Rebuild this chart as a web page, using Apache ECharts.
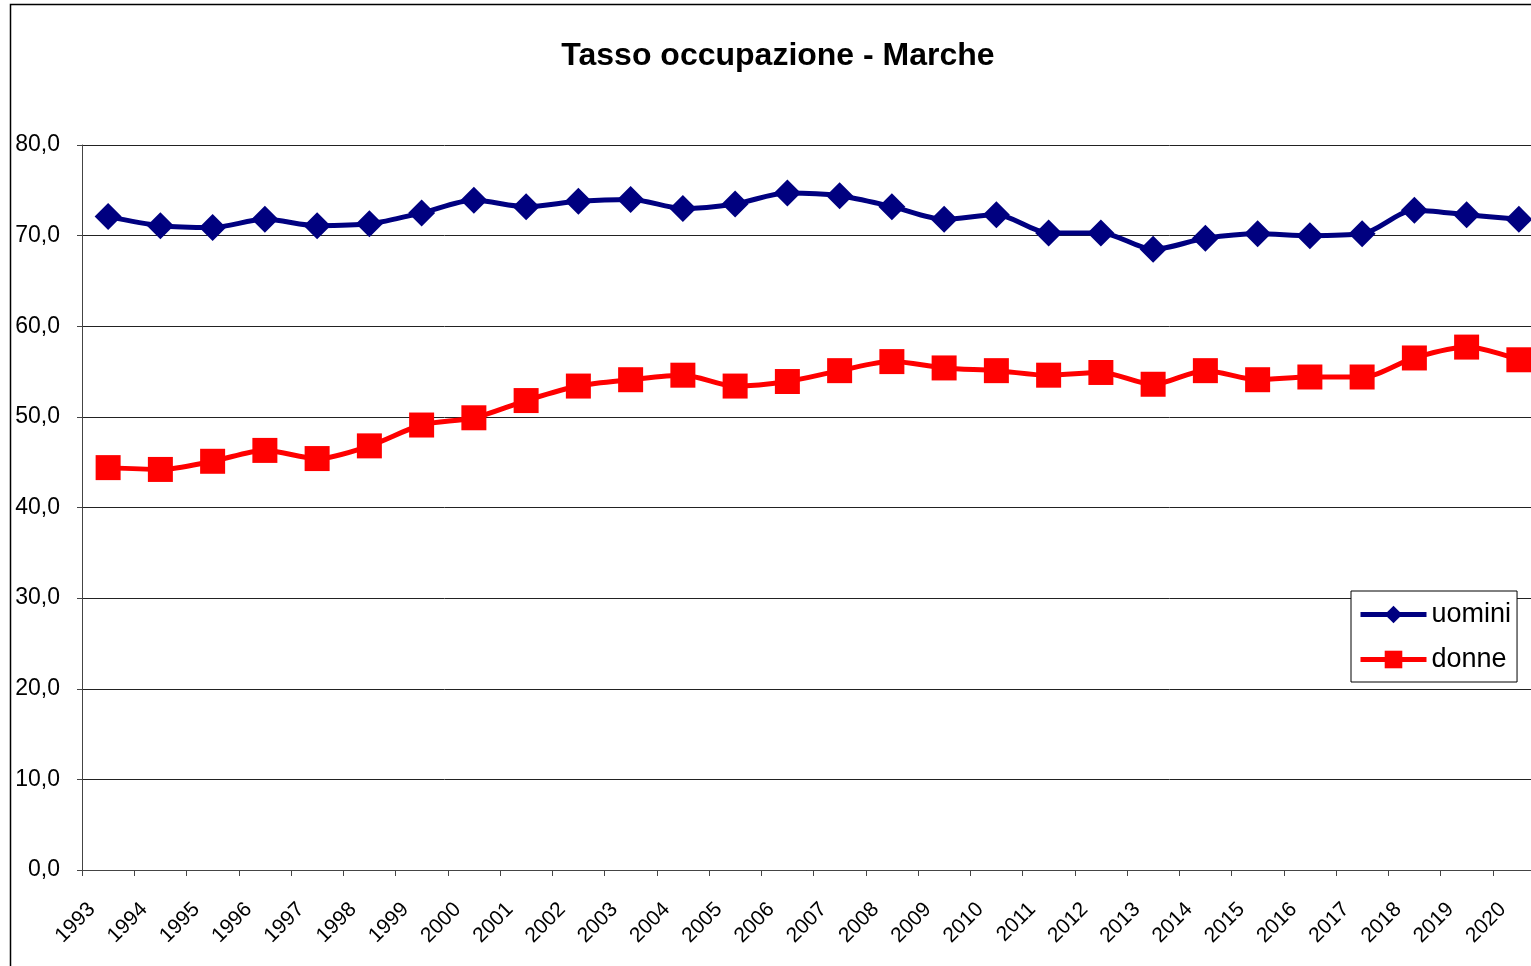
<!DOCTYPE html>
<html>
<head>
<meta charset="utf-8">
<title>Tasso occupazione - Marche</title>
<script src="https://cdn.jsdelivr.net/npm/echarts@6/dist/echarts.min.js"></script>
<style>
html, body { margin: 0; padding: 0; background: #fff; }
#chart { width: 1531px; height: 966px; }
</style>
</head>
<body>
<div id="chart"></div>
<script>
// anni
const years = ['1993', '1994', '1995', '1996', '1997', '1998', '1999', '2000', '2001', '2002',
    '2003', '2004', '2005', '2006', '2007', '2008', '2009', '2010', '2011', '2012',
    '2013', '2014', '2015', '2016', '2017', '2018', '2019', '2020']
// tasso occupazione uomini
const uomini = [72.1, 71.1, 70.9, 71.8, 71.1, 71.3, 72.5, 73.9, 73.2, 73.8,
    74.0, 73.0, 73.5, 74.7, 74.4, 73.2, 71.8, 72.3, 70.3, 70.3,
    68.5, 69.7, 70.2, 70.0, 70.2, 72.8, 72.3, 71.8]
// tasso occupazione donne
const donne = [44.4, 44.2, 45.1, 46.3, 45.4, 46.8, 49.1, 49.9, 51.8, 53.4,
    54.1, 54.6, 53.4, 53.9, 55.1, 56.1, 55.4, 55.1, 54.6, 54.9,
    53.6, 55.1, 54.1, 54.4, 54.4, 56.5, 57.7, 56.3]

const font = 'Liberation Sans, Arial, sans-serif'

let chart = echarts.init(document.getElementById('chart'))
chart.setOption({
    animation: false,
    backgroundColor: '#fff',
    textStyle: { fontFamily: font },
    title: {
        text: 'Tasso occupazione - Marche',
        left: 773,
        top: 35,
        textAlign: 'center',
        textStyle: {
            fontFamily: font,
            fontSize: 32,
            fontWeight: 'bold',
            color: '#000'
        }
    },
    graphic: [
        {
            type: 'rect',
            shape: { x: 10.5, y: 4.5, width: 1540, height: 1000 },
            style: { fill: null, stroke: '#000', lineWidth: 1.5 },
            silent: true
        }
    ],
    legend: {
        data: ['uomini', 'donne'],
        orient: 'vertical',
        left: 1351,
        top: 591,
        itemWidth: 66,
        itemHeight: 22,
        itemGap: 18,
        padding: [10, 6, 9, 7],
        borderColor: '#000',
        borderWidth: 1,
        backgroundColor: '#fff',
        lineStyle: { width: 5 },
        textStyle: {
            fontFamily: font,
            fontSize: 27,
            color: '#000'
        }
    },
    grid: {
        left: 82,
        top: 145,
        width: 1463,
        height: 725,
        outerBoundsMode: 'none',
        containLabel: false
    },
    xAxis: {
        type: 'category',
        data: years,
        boundaryGap: true,
        axisLine: { lineStyle: { color: '#444', width: 1 } },
        axisTick: { show: true, length: 6, lineStyle: { color: '#444' } },
        axisLabel: {
            interval: 0,
            rotate: 45,
            margin: 20,
            padding: [0, 23, 0, 0],
            fontSize: 21,
            color: '#000',
            fontFamily: font
        },
        splitLine: { show: false }
    },
    yAxis: {
        type: 'value',
        min: 0,
        max: 80,
        interval: 10,
        axisLine: { show: true, lineStyle: { color: '#444', width: 1 } },
        axisTick: { show: true, length: 5, lineStyle: { color: '#444' } },
        axisLabel: {
            margin: 22,
            fontSize: 23,
            color: '#000',
            fontFamily: font,
            formatter: function (v) {
                return v.toFixed(1).replace('.', ',')
            }
        },
        splitLine: { lineStyle: { color: '#222', width: 1 } }
    },
    series: [
        {
            name: 'uomini',
            type: 'line',
            data: uomini,
            smooth: 0.3,
            symbol: 'diamond',
            symbolSize: 27,
            color: '#000080',
            lineStyle: { width: 5, color: '#000080' },
            itemStyle: { color: '#000080' }
        },
        {
            name: 'donne',
            type: 'line',
            data: donne,
            smooth: 0.3,
            symbol: 'rect',
            symbolSize: 25,
            color: '#ff0000',
            lineStyle: { width: 5, color: '#ff0000' },
            itemStyle: { color: '#ff0000' }
        }
    ]
})
</script>
</body>
</html>
